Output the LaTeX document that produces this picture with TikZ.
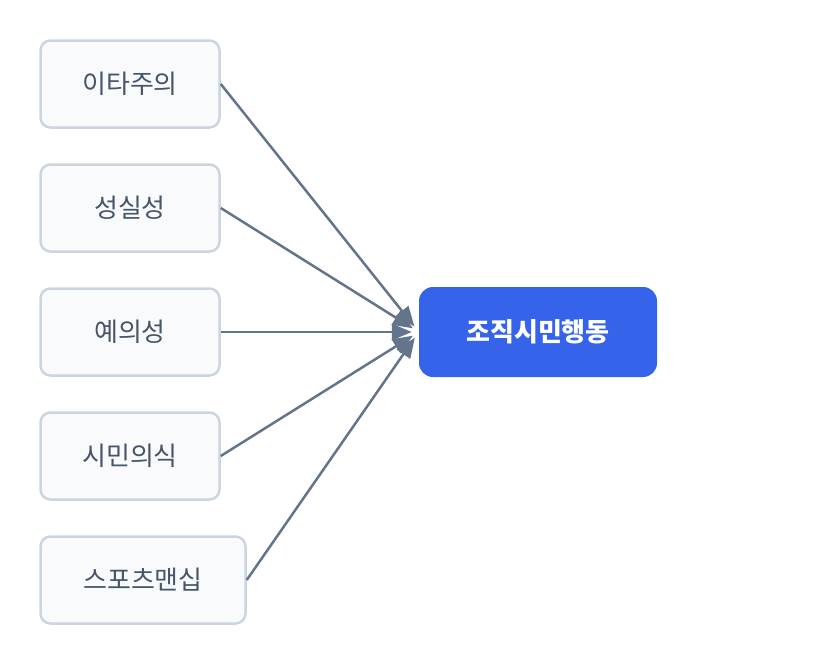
\documentclass[tikz,border=0pt]{standalone}
\usepackage{fontspec}
\setmainfont{Noto Sans CJK KR}
\usetikzlibrary{arrows.meta}
\definecolor{boxfill}{HTML}{F8FAFC}
\definecolor{boxline}{HTML}{CBD5E1}
\definecolor{boxtext}{HTML}{475569}
\definecolor{edgecol}{HTML}{64748B}
\definecolor{mainfill}{HTML}{3563E9}
\tikzset{
  factor/.style={draw=boxline, line width=2.5pt, fill=boxfill, rounded corners=10pt,
    minimum height=87pt, text=boxtext, font=\fontsize{26pt}{30pt}\selectfont, inner sep=0pt},
  target/.style={fill=mainfill, rounded corners=14pt, minimum width=238pt, minimum height=90pt,
    text=white, font=\fontsize{26pt}{30pt}\selectfont\bfseries, inner sep=0pt},
  link/.style={draw=edgecol, line width=2.5pt, -{Triangle[length=20pt,width=16pt]}, shorten >=7pt}
}
\begin{document}
\begin{tikzpicture}[x=1pt,y=-1pt]
\useasboundingbox (0,0) rectangle (840,664);
\node[factor, minimum width=179pt] (a) at (130,84) {이타주의};
\node[factor, minimum width=179pt] (b) at (130,208) {성실성};
\node[factor, minimum width=179pt] (c) at (130,332) {예의성};
\node[factor, minimum width=179pt] (d) at (130,456) {시민의식};
\node[factor, minimum width=205pt] (e) at (143,580) {스포츠맨십};
\node[target] (t) at (538,332) {조직시민행동};
\foreach \n in {a,b,c,d,e} \draw[link] (\n.east) -- (t.west);
\end{tikzpicture}
\end{document}
